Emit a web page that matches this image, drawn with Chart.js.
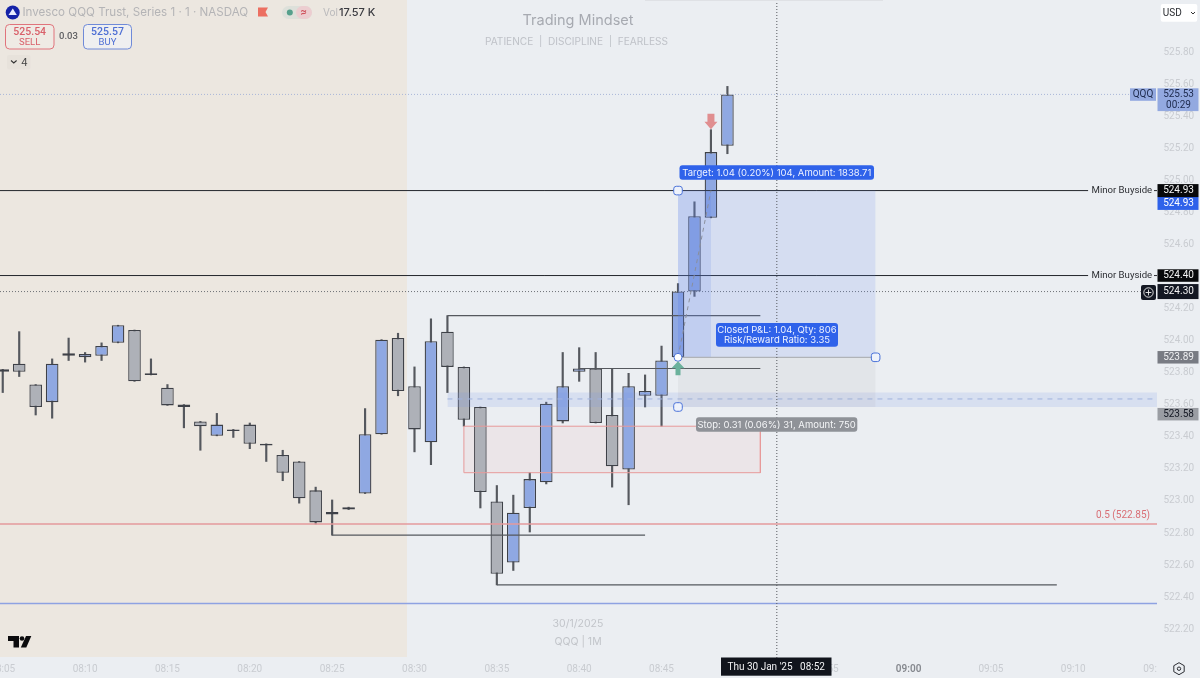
<!DOCTYPE html>
<html>
<head>
<meta charset="utf-8">
<style>
  html, body { margin: 0; padding: 0; background: #ebeef2; }
  canvas { display: block; }
</style>
<script src="https://cdn.jsdelivr.net/npm/chart.js@4/dist/chart.umd.min.js"></script>
</head>
<body>
<canvas id="chart" width="1200" height="678"></canvas>
<script>
// ---------------- DATA ----------------
const times = ["08:05","08:06","08:07","08:08","08:09","08:10","08:11","08:12","08:13","08:14",
  "08:15","08:16","08:17","08:18","08:19","08:20","08:21","08:22","08:23","08:24",
  "08:25","08:26","08:27","08:28","08:29","08:30","08:31","08:32","08:33","08:34",
  "08:35","08:36","08:37","08:38","08:39","08:40","08:41","08:42","08:43","08:44",
  "08:45","08:46","08:47","08:48","08:49"];
const opens = [523.815,523.85,523.72,523.61,523.915,523.89,523.90,523.98,524.06,523.79,
  523.70,523.595,523.49,523.40,523.44,523.47,523.35,523.28,523.24,523.06,
  522.925,522.955,523.04,523.41,524.01,523.71,523.36,524.05,523.83,523.58,
  522.99,522.61,522.95,523.11,523.49,523.80,523.82,523.53,523.19,523.65,
  523.65,523.89,524.30,524.76,525.21];
const highs = [523.815,524.05,523.72,523.88,524.01,523.92,523.98,524.09,524.06,523.88,
  523.72,523.595,523.49,523.54,523.44,523.48,523.35,523.31,523.24,523.08,
  523.00,522.955,523.57,524.00,524.04,523.83,524.13,524.15,523.83,523.58,
  523.09,523.03,523.17,523.61,523.92,523.95,523.92,523.82,523.79,523.78,
  523.96,524.35,524.86,525.31,525.58];
const lows = [523.67,523.77,523.53,523.51,523.87,523.86,523.87,523.98,523.74,523.78,
  523.59,523.45,523.31,523.40,523.39,523.32,523.24,523.12,522.98,522.85,
  522.78,522.94,523.04,523.41,523.65,523.30,523.22,523.67,523.46,522.95,
  522.47,522.56,522.80,523.10,523.48,523.74,523.48,523.08,522.97,523.58,
  523.46,523.89,524.27,524.76,525.16];
const closes = [523.80,523.80,523.58,523.85,523.90,523.91,523.96,524.09,523.74,523.78,
  523.59,523.58,523.46,523.47,523.43,523.35,523.34,523.17,523.01,522.86,
  522.91,522.94,523.41,524.00,523.68,523.44,523.99,523.83,523.50,523.05,
  522.54,522.92,523.13,523.60,523.71,523.82,523.48,523.21,523.71,523.68,
  523.87,524.30,524.77,525.17,525.53];

const priceTicks = [522.2,522.4,522.6,522.8,523.0,523.2,523.4,523.6,523.8,524.0,524.2,524.4,524.6,524.8,525.0,525.2,525.4,525.6,525.8];
const timeTicks = ["08:05","08:10","08:15","08:20","08:25","08:30","08:35","08:40","08:45","08:50","08:55","09:00","09:05","09:10","09:15"];

// Drawn levels: [from time, to time, price]
const rayLevels = [["08:32","08:51",524.15],["08:40","08:51",523.82],["08:25","08:44",522.78],["08:35","09:09",522.47]];
const buysideLevels = [524.93, 524.40];
const lastPrice = 525.53, alertPrice = 524.30, fibPrice = 522.85, bluePrice = 522.354;
const crosshairTime = "08:52";
const sessionStart = "08:29:33";

const entryPrice = 523.89, targetPrice = 524.93, stopPrice = 523.58;
const entryTime = "08:46", exitTime = "08:48", positionEnd = "08:58";
const bandTop = 523.67, bandBottom = 523.58, bandMid = 523.63, bandStart = "08:32";
const zoneTop = 523.46, zoneBottom = 523.17, zoneStart = "08:33", zoneEnd = "08:51";

// ---------------- HELPERS ----------------
function toMin(t) {
  const p = t.split(":").map(Number);
  return p[0] * 60 + p[1] + (p[2] || 0) / 60;
}
const xStart = "08:04:50", xEnd = "09:15:05";
const xMin = toMin(xStart), xMax = toMin(xEnd);
const yMin = 522.014, yMax = 526.119;

function seg(x1, y1, x2, y2) { return [{ x: toMin(x1), y: y1 }, { x: toMin(x2), y: y2 }]; }

function lineSet(data, color, order, extra) {
  return Object.assign({ type: "line", data, borderColor: color, borderWidth: 1, pointRadius: 0, fill: false, tension: 0, order }, extra || {});
}
function areaSet(x1, x2, top, bottom, color, order) {
  return lineSet(seg(x1, top, x2, top), "rgba(0,0,0,0)", order, { borderWidth: 0, fill: { value: bottom }, backgroundColor: color });
}

// ---------------- DATASETS ----------------
const candleX = times.map(toMin);
const isUp = closes.map((c, i) => c >= opens[i]);

const datasets = [
  // session background
  areaSet(xStart, sessionStart, yMax, 522.02, "#ece7e0", 50),

  // wicks and bodies
  { type: "bar", data: candleX.map((x, i) => ({ x, y: [lows[i], highs[i]] })), backgroundColor: "#55585e",
    barThickness: 1.5, grouped: false, order: 21 },
  { type: "bar", data: candleX.map((x, i) => ({ x, y: [opens[i], closes[i]] })),
    backgroundColor: isUp.map(u => u ? "#8fa8e2" : "#aeb1b8"), borderColor: "#3e4148", borderWidth: 1.3,
    borderSkipped: false, inflateAmount: 0, barThickness: 12.6, grouped: false, order: 20 },

  // zones that sit behind the candles
  areaSet(zoneStart, zoneEnd, zoneTop, zoneBottom, "rgba(238,170,170,0.13)", 30),
  lineSet([...seg(zoneStart, zoneTop, zoneEnd, zoneTop), ...seg(zoneEnd, zoneBottom, zoneStart, zoneBottom), { x: toMin(zoneStart), y: zoneTop }], "#e79a9a", 9),

  // fib + blue level
  lineSet(seg(xStart, fibPrice, xEnd, fibPrice), "#e49a9d", 8, { borderWidth: 1.4 }),
  lineSet(seg(xStart, bluePrice, xEnd, bluePrice), "#8ea2e2", 8, { borderWidth: 1.4 }),

  // trend rays
  ...rayLevels.map(r => lineSet(seg(r[0], r[2], r[1], r[2]), "#55585e", 7, { borderWidth: 1.2 })),

  // buyside levels run up to their text
  ...buysideLevels.map(p => lineSet(seg(xStart, p, "09:10:54", p), "#23262c", 7)),

  // dotted levels
  lineSet(seg(xStart, lastPrice, "09:13:30", lastPrice), "#a9b6d8", 7, { borderDash: [1, 2] }),
  lineSet(seg(xStart, alertPrice, "09:14:06", alertPrice), "#6d7076", 7, { borderDash: [1, 2] }),

  // blue band
  areaSet(bandStart, xEnd, bandTop, bandBottom, "rgba(120,150,230,0.17)", 6),
  lineSet(seg(bandStart, bandMid, xEnd, bandMid), "#a8b8dc", 6, { borderDash: [5, 5] }),

  // long position
  areaSet(entryTime, positionEnd, targetPrice, entryPrice, "rgba(100,135,235,0.16)", 5),
  areaSet(entryTime, exitTime, targetPrice, entryPrice, "rgba(100,135,235,0.18)", 5),
  areaSet(entryTime, positionEnd, entryPrice, stopPrice, "rgba(140,140,140,0.09)", 5),
  lineSet(seg(entryTime, entryPrice, positionEnd, entryPrice), "#b0b3b8", 4, { borderWidth: 1.2 }),
  lineSet(seg(entryTime, entryPrice, exitTime, targetPrice), "#8a8f9c", 4, { borderDash: [4, 4] }),

  // crosshair
  lineSet(seg(crosshairTime, yMin, crosshairTime, yMax), "#55585e", 3, { borderDash: [1, 2] }),

  // position handles
  lineSet([{ x: toMin(entryTime), y: entryPrice }], "#4a72d8", 2, { pointStyle: "circle", pointRadius: 4, pointBackgroundColor: "#ffffff", pointBorderColor: "#4a72d8", pointBorderWidth: 1, showLine: false }),
  lineSet([{ x: toMin(entryTime), y: targetPrice }, { x: toMin(positionEnd), y: entryPrice }, { x: toMin(entryTime), y: stopPrice }], "#4a72d8", 2,
    { pointStyle: "rectRounded", pointRadius: 5, pointBackgroundColor: "#eef2fb", pointBorderColor: "#4a72d8", pointBorderWidth: 1, showLine: false })
];

// ---------------- OVERLAY PLUGIN ----------------
const FONT = "Inter, 'Liberation Sans', sans-serif";
const NUM_FONT = "Roboto, 'Liberation Sans', sans-serif";

function box(ctx, x, y, w, h, r, fill, stroke) {
  ctx.beginPath();
  ctx.roundRect(x, y, w, h, r);
  if (fill) { ctx.fillStyle = fill; ctx.fill(); }
  if (stroke) { ctx.strokeStyle = stroke; ctx.lineWidth = 1; ctx.stroke(); }
}
function label(ctx, s, x, y, size, color, align, weight, family) {
  ctx.font = (weight || "400") + " " + size + "px " + (family || FONT);
  ctx.fillStyle = color;
  ctx.textAlign = align || "left";
  ctx.textBaseline = "middle";
  ctx.fillText(s, x, y);
}
function poly(ctx, pts, fill) {
  ctx.beginPath();
  pts.forEach((p, i) => i ? ctx.lineTo(p[0], p[1]) : ctx.moveTo(p[0], p[1]));
  ctx.closePath();
  ctx.fillStyle = fill;
  ctx.fill();
}

const overlay = {
  id: "overlay",
  afterDraw(chart) {
    const { ctx, scales } = chart;
    const px = t => scales.x.getPixelForValue(toMin(t));
    const py = p => scales.y.getPixelForValue(p);
    ctx.save();

    // hide the part of the clipped last tick
    ctx.fillStyle = "#ebeef2";
    ctx.fillRect(1157, 658, 43, 20);

    // toolbar edge at the top
    ctx.fillStyle = "#dfe1e5";
    ctx.fillRect(645, 0, 238, 1);

    // watermark
    label(ctx, "Trading Mindset", 578, 21, 14.5, "#a7aab1", "center");
    label(ctx, "PATIENCE  |  DISCIPLINE  |  FEARLESS", 576.5, 42, 10.1, "#bfc2c8", "center");
    label(ctx, "30/1/2025", 578, 623.5, 10.5, "#c2c5ca", "center");
    label(ctx, "QQQ | 1M", 578, 642, 10.5, "#c2c5ca", "center");

    // header
    ctx.beginPath(); ctx.arc(12.7, 12.5, 7, 0, Math.PI * 2); ctx.fillStyle = "#1523a8"; ctx.fill();
    poly(ctx, [[8.5, 15], [12.8, 8.5], [16.8, 15]], "#e8ecff");
    label(ctx, "Invesco QQQ Trust, Series 1 · 1 · NASDAQ", 22.5, 12.5, 11.6, "#b4b4b6");
    poly(ctx, [[258, 7.5], [268, 7.5], [265.5, 12], [268, 16.5], [258, 16.5]], "#ec6f61");
    box(ctx, 282, 6, 30, 13, 6.5, "#dde0da");
    box(ctx, 296, 6, 16, 13, 6.5, "#eccdd0");
    ctx.beginPath(); ctx.arc(289.8, 12.5, 3, 0, Math.PI * 2); ctx.fillStyle = "#56a08c"; ctx.fill();
    label(ctx, "≈", 303.5, 12, 10, "#d0545e", "center", "600");
    label(ctx, "Vol", 323, 12.5, 10, "#b9b9bb");
    label(ctx, "17.57 K", 339, 12.5, 11, "#3a3b40", "left", "500");

    box(ctx, 5.5, 24.5, 48.5, 24.5, 4, "#efeae4", "#e0747c");
    label(ctx, "525.54", 29.7, 32.5, 10.5, "#d9606a", "center", "500", NUM_FONT);
    label(ctx, "SELL", 29.7, 43, 9.5, "#d9606a", "center", "400", NUM_FONT);
    label(ctx, "0.03", 68.5, 36.5, 9.5, "#5f6063", "center", "500", NUM_FONT);
    box(ctx, 83.5, 24.5, 48, 24.5, 4, "#efeff0", "#6f8ad8");
    label(ctx, "525.57", 107.5, 32.5, 10.5, "#4e6fd4", "center", "500", NUM_FONT);
    label(ctx, "BUY", 107.5, 43, 9.5, "#4e6fd4", "center", "400", NUM_FONT);
    box(ctx, 7, 55, 23.5, 14.5, 2, "#e7e2db");
    ctx.beginPath(); ctx.moveTo(11, 60.5); ctx.lineTo(13.8, 63); ctx.lineTo(16.6, 60.5);
    ctx.strokeStyle = "#333"; ctx.lineWidth = 1.1; ctx.stroke();
    label(ctx, "4", 21, 62.5, 10.5, "#444", "left");

    // TradingView mark
    poly(ctx, [[8, 636], [19, 636], [19, 647.5], [13.5, 647.5], [13.5, 641], [8, 641]], "#0b0b0d");
    ctx.beginPath(); ctx.arc(22, 638.5, 2.3, 0, Math.PI * 2); ctx.fillStyle = "#0b0b0d"; ctx.fill();
    poly(ctx, [[26, 636], [31.3, 636], [26.3, 647.5], [20.8, 647.5]], "#0b0b0d");

    // trade arrows
    const ax = px(exitTime), sellY = py(525.31);
    poly(ctx, [[ax - 3.5, sellY - 16], [ax + 3.5, sellY - 16], [ax + 3.5, sellY - 8], [ax + 6.5, sellY - 8], [ax, sellY - 0.5], [ax - 6.5, sellY - 8], [ax - 3.5, sellY - 8]], "#e08e90");
    const bx = px(entryTime), buyY = py(entryPrice);
    poly(ctx, [[bx, buyY + 4], [bx + 6.5, buyY + 11], [bx + 2.5, buyY + 11], [bx + 2.5, buyY + 18], [bx - 2.5, buyY + 18], [bx - 2.5, buyY + 11], [bx - 6.5, buyY + 11]], "#6bb19c");

    // position pills
    box(ctx, 679.5, 165.3, 194.5, 14.5, 3, "#2f62ea");
    label(ctx, "Target: 1.04 (0.20%) 104, Amount: 1838.71", 776.8, 172.8, 9.5, "#eef2ff", "center");
    box(ctx, 716, 323, 122, 23.8, 3, "#2f62ea");
    label(ctx, "Closed P&L: 1.04, Qty: 806", 777, 330.5, 9.5, "#eef2ff", "center");
    label(ctx, "Risk/Reward Ratio: 3.35", 777, 340, 9.5, "#eef2ff", "center");
    box(ctx, 696, 417.3, 161.3, 14.5, 3, "#8f9298");
    label(ctx, "Stop: 0.31 (0.06%) 31, Amount: 750", 776.6, 424.8, 9.5, "#f4f5f7", "center");

    // level captions
    buysideLevels.forEach(p => {
      label(ctx, "Minor Buyside", 1091.5, py(p), 9.6, "#2c2e33", "left", "400", NUM_FONT);
      ctx.fillStyle = "#2c2e33"; ctx.fillRect(1154, py(p) - 0.5, 3, 1);
    });
    label(ctx, "0.5 (522.85)", 1150, py(fibPrice) - 8.5, 10, "#d96f76", "right", "400", NUM_FONT);

    // price tags on the axis
    const tag = (p, h, fill, color, s) => {
      const y = py(p);
      ctx.fillStyle = fill;
      ctx.fillRect(1157.5, y - h / 2, 41, h);
      label(ctx, s, 1178.5, y + 0.3, 10, color, "center", "400", NUM_FONT);
    };
    ctx.fillStyle = "#93a9e0";
    ctx.fillRect(1130, 88.3, 26, 12.5);
    ctx.fillRect(1157.5, 88.3, 41, 22.8);
    label(ctx, "QQQ", 1143, 94.7, 10, "#1d2a4d", "center", "400", NUM_FONT);
    label(ctx, "525.53", 1178.5, 94.7, 10, "#1d2a4d", "center", "400", NUM_FONT);
    label(ctx, "00:29", 1178.5, 105, 10, "#1d2a4d", "center", "400", NUM_FONT);

    tag(targetPrice - 0.08, 13, "#2f62ea", "#ffffff", "524.93");
    tag(524.93, 13, "#08090b", "#f3f3f3", "524.93");
    tag(524.40, 12.5, "#08090b", "#f3f3f3", "524.40");
    tag(alertPrice, 15, "#131722", "#f3f3f3", "524.30");
    tag(entryPrice, 12.5, "#787b83", "#eeeff1", "523.89");
    tag(stopPrice - 0.045, 12.5, "#9a9da3", "#131722", "523.58");

    // add-alert button
    box(ctx, 1141, 285, 15, 15, 2, "#131722");
    ctx.beginPath(); ctx.arc(1148.5, 292.5, 4.7, 0, Math.PI * 2);
    ctx.moveTo(1148.5, 289.6); ctx.lineTo(1148.5, 295.4); ctx.moveTo(1145.6, 292.5); ctx.lineTo(1151.4, 292.5);
    ctx.strokeStyle = "#f0f0f0"; ctx.lineWidth = 0.9; ctx.stroke();

    // currency button
    box(ctx, 1160.7, 4, 36.6, 17.7, 2, "#ffffff");
    label(ctx, "USD", 1162.8, 13, 10, "#2a2c31", "left", "400", NUM_FONT);
    ctx.beginPath(); ctx.moveTo(1191, 12); ctx.lineTo(1193, 14); ctx.lineTo(1195, 12);
    ctx.strokeStyle = "#333"; ctx.lineWidth = 1; ctx.stroke();

    // date tag on the time axis
    ctx.fillStyle = "#11141c";
    ctx.fillRect(721, 657.5, 110.5, 18.2);
    label(ctx, "Thu 30 Jan '25   08:52", 776.2, 667, 10, "#f1f1f3", "center", "400", NUM_FONT);

    // settings cog
    ctx.beginPath();
    for (let i = 0; i < 6; i++) {
      const a = Math.PI / 6 + i * Math.PI / 3;
      const hx = 1179 + 6 * Math.cos(a), hy = 668.7 + 6 * Math.sin(a);
      i ? ctx.lineTo(hx, hy) : ctx.moveTo(hx, hy);
    }
    ctx.closePath();
    ctx.strokeStyle = "#2b2d33"; ctx.lineWidth = 1; ctx.stroke();
    ctx.beginPath(); ctx.arc(1179, 668.7, 1.7, 0, Math.PI * 2); ctx.stroke();

    ctx.restore();
  }
};

// ---------------- CHART ----------------
new Chart(document.getElementById("chart"), {
  data: { datasets },
  plugins: [overlay],
  options: {
    responsive: false,
    animation: false,
    layout: { padding: 0, autoPadding: false },
    plugins: { legend: { display: false }, tooltip: { enabled: false }, title: { display: false } },
    scales: {
      x: {
        type: "linear",
        offset: false,
        min: xMin,
        max: xMax,
        grid: { display: false, drawTicks: false },
        border: { display: false },
        afterBuildTicks: axis => { axis.ticks = timeTicks.map(t => ({ value: toMin(t), label: t })); },
        afterFit: axis => { axis.height = 20; axis.paddingLeft = 0; axis.paddingRight = 0; },
        ticks: {
          autoSkip: false,
          maxRotation: 0,
          padding: 5,
          color: ctx => ctx.tick && ctx.tick.label === "09:00" ? "#85888e" : "#c9ccd1",
          font: ctx => ({ family: NUM_FONT, size: 10, weight: ctx.tick && ctx.tick.label === "09:00" ? "600" : "400" }),
          callback: (v, i) => timeTicks[i]
        }
      },
      y: {
        type: "linear",
        position: "right",
        min: yMin,
        max: yMax,
        grid: { display: false, drawTicks: false },
        border: { display: false },
        afterBuildTicks: axis => { axis.ticks = priceTicks.map(v => ({ value: v })); },
        afterFit: axis => { axis.width = 43; axis.paddingTop = 0; axis.paddingBottom = 0; },
        ticks: {
          autoSkip: false,
          padding: 6.5,
          labelOffset: 1,
          color: "#c9ccd1",
          font: { family: NUM_FONT, size: 10 },
          callback: v => v.toFixed(2)
        }
      }
    }
  }
});
</script>
</body>
</html>
